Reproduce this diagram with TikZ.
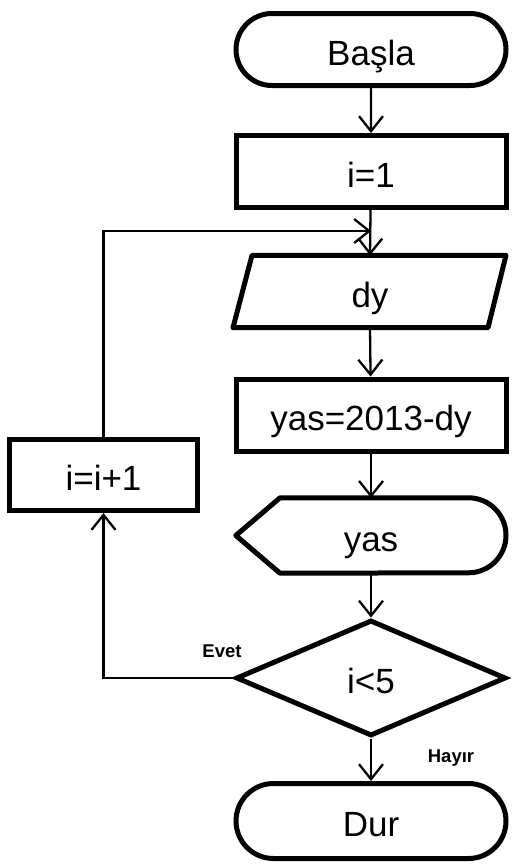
\documentclass[tikz,border=0pt]{standalone}
\usepackage{fontspec}
\setmainfont{Liberation Sans}
\usetikzlibrary{arrows.meta,shapes.misc,shapes.geometric}

\begin{document}
\begin{tikzpicture}[x=1pt,y=-1pt,
  txt/.style={font=\fontsize{35}{40}\selectfont, text height=31pt, text depth=0pt},
  box/.style={draw, line width=5pt, rectangle, inner sep=0pt,
    minimum width=270pt, minimum height=72pt, txt},
  term/.style={box, rounded rectangle},
  plain/.style={inner sep=0pt, minimum width=270pt, minimum height=72pt, txt},
  decision/.style={draw, line width=5pt, diamond, inner sep=0pt,
    minimum width=270pt, minimum height=116pt, txt},
  flow/.style={line width=2.3pt, -{Straight Barb[length=15pt,width=24pt,line width=2.3pt]}},
  lbl/.style={font=\bfseries\fontsize{18.5}{22}\selectfont, inner sep=0pt}
]
\useasboundingbox (0,0) rectangle (520,865);

% main column
\node[term] (start) at (371,49.5) {Başla};
\node[box]  (init)  at (371,171.5) {i=1};
\node[plain] (read) at (370,291.5) {dy};
\draw[line width=5pt, line join=round]
  ([xshift=-118pt]read.north) -- ([xshift=136pt]read.north)
  -- ([xshift=118pt]read.south) -- ([xshift=-137pt]read.south) -- cycle;
\node[box]  (calc)  at (371,415) {yas=2013-dy};
\node[plain, minimum height=75pt] (show) at (371,535.5) {yas};
\draw[line width=5pt, line join=round]
  ([xshift=-91pt]show.north) -- ([xshift=97.5pt]show.north)
  arc[start angle=90, end angle=-90, radius=37.5pt]
  -- ([xshift=-91pt]show.south) -- (show.west) -- cycle;
\node[decision] (test) at (371,678) {i<5};
\node[term, minimum height=75pt] (stop) at (371,821) {Dur};

% side box for the counter
\node[box, minimum width=188pt, minimum height=71pt] (inc) at (103.5,475) {i=i+1};

% loop return point
\coordinate (join) at (371,231);

% connectors
\draw[flow] (start) -- (init);
\draw[flow] (init) -- (read.north);
\draw[flow] (read.south) -- (calc);
\draw[flow] (calc) -- (show.north);
\draw[flow] (show.south) -- (test);
\draw[flow] (test) -- (stop);
\draw[flow] (test.west) -| (inc.south);
\draw[flow] (inc.north) |- (join);

% branch labels
\node[lbl] (yes) at (222,651) {Evet};
\node[lbl] (no)  at (451,758) {Hayır};
\end{tikzpicture}
\end{document}
